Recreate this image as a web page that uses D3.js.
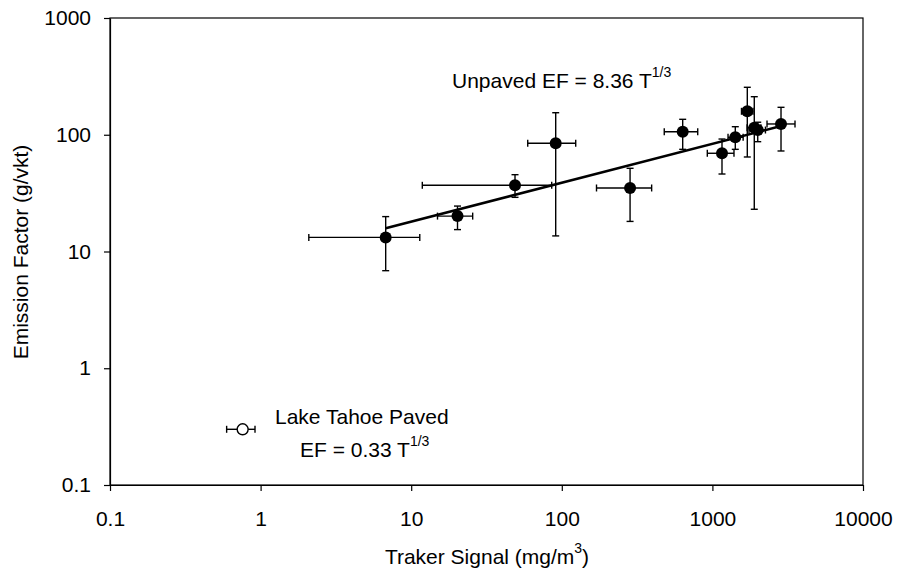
<!DOCTYPE html>
<html>
<head>
<meta charset="utf-8">
<script src="https://cdn.jsdelivr.net/npm/d3@7"></script>
<style>
  body { margin: 0; background: #fff; }
  svg text { font-family: "Liberation Sans", Arial, sans-serif; fill: #000; }
</style>
</head>
<body>
<svg id="chart" width="897" height="573"></svg>
<script>
// unpaved road measurements (Traker signal vs emission factor)
const trakerT  = [6.77, 20.3, 48.9, 91.1, 284, 635, 1158, 1419, 1705, 1897, 2000, 2855];
const trakerLo = [2.09, 14.95, 11.85, 59.4, 170, 479, 925, 1270, 1560, 1700, 1750, 2305];
const trakerHi = [11.4, 25.6, 85.7, 123.7, 395, 799, 1391, 1600, 1860, 2100, 2250, 3536];
const ef   = [13.2, 20.1, 36.9, 84.5, 35.0, 106.2, 69.4, 95.1, 158.8, 115, 109.8, 123.7];
const efLo = [6.85, 15.4, 29.1, 13.6, 18.1, 75, 46.1, 75, 64.5, 23.0, 87.2, 72.6];
const efHi = [19.9, 24.5, 45.5, 154.4, 51.6, 135.6, 91.9, 117.2, 255, 211.8, 128, 171.8];

// Lake Tahoe paved point
const pavedT = [0.76], pavedLo = [0.595], pavedHi = [0.918], pavedEF = [0.30];

// fitted line ends (EF = 8.36 T^1/3)
const fitT = [6.77, 2855];
const fitEF = [15.8, 118.6];

const xTicks = [0.1, 1, 10, 100, 1000, 10000];
const yTicks = [0.1, 1, 10, 100, 1000];

const svg = d3.select("#chart");
const mL = 110, mR = 863, mT = 18, mB = 485;

const gx = d3.scaleLog().domain([0.1, 10000]).range([mL, mR]);
const gy = d3.scaleLog().domain([0.1, 1000]).range([mB, mT]);
const fmt = d => d < 1 ? String(d) : d3.format("d")(d);

// frame
svg.append("rect")
    .attr("x", mL).attr("y", mT)
    .attr("width", mR - mL).attr("height", mB - mT)
    .attr("fill", "none").attr("stroke", "#000").attr("stroke-width", 1.2);

const xAxis = svg.append("g")
    .attr("transform", "translate(0," + mB + ")")
    .call(d3.axisBottom(gx).tickValues(xTicks).tickFormat(fmt)
        .tickSizeInner(6).tickSizeOuter(0).tickPadding(20));
const yAxis = svg.append("g")
    .attr("transform", "translate(" + mL + ",0)")
    .call(d3.axisLeft(gy).tickValues(yTicks).tickFormat(fmt)
        .tickSizeInner(6).tickSizeOuter(0).tickPadding(13));

[xAxis, yAxis].forEach(function(a) {
    a.select(".domain").attr("stroke", "#000").attr("stroke-width", 1.2);
    a.selectAll(".tick line").attr("stroke", "#000").attr("stroke-width", 1.2);
    a.selectAll(".tick text").attr("font-size", 21).attr("font-family", null);
});

// fit line
svg.append("path")
    .datum(d3.zip(fitT, fitEF))
    .attr("d", d3.line().x(d => gx(d[0])).y(d => gy(d[1])))
    .attr("fill", "none").attr("stroke", "#000").attr("stroke-width", 2.6);

function errorBars(xs, xlo, xhi, ys, ylo, yhi) {
    const g = svg.append("g").attr("stroke", "#000").attr("stroke-width", 1.4);
    const cap = 3.5;
    xs.forEach(function(x, i) {
        const px = gx(x), py = gy(ys[i]);
        // horizontal
        g.append("line").attr("x1", gx(xlo[i])).attr("x2", gx(xhi[i])).attr("y1", py).attr("y2", py);
        g.append("line").attr("x1", gx(xlo[i])).attr("x2", gx(xlo[i])).attr("y1", py - cap).attr("y2", py + cap);
        g.append("line").attr("x1", gx(xhi[i])).attr("x2", gx(xhi[i])).attr("y1", py - cap).attr("y2", py + cap);
        if (ylo) {
            g.append("line").attr("x1", px).attr("x2", px).attr("y1", gy(ylo[i])).attr("y2", gy(yhi[i]));
            g.append("line").attr("x1", px - cap).attr("x2", px + cap).attr("y1", gy(ylo[i])).attr("y2", gy(ylo[i]));
            g.append("line").attr("x1", px - cap).attr("x2", px + cap).attr("y1", gy(yhi[i])).attr("y2", gy(yhi[i]));
        }
    });
}

errorBars(trakerT, trakerLo, trakerHi, ef, efLo, efHi);
errorBars(pavedT, pavedLo, pavedHi, pavedEF, null, null);

svg.append("g").selectAll("circle")
    .data(d3.zip(trakerT, ef))
    .enter()
    .append("circle")
    .attr("cx", d => gx(d[0])).attr("cy", d => gy(d[1]))
    .attr("r", 6).attr("fill", "#000");

svg.append("g").selectAll("circle")
    .data(d3.zip(pavedT, pavedEF))
    .enter()
    .append("circle")
    .attr("cx", d => gx(d[0])).attr("cy", d => gy(d[1]))
    .attr("r", 5.5).attr("fill", "#fff").attr("stroke", "#000").attr("stroke-width", 1.4);

// labels
function supText(x, y, main, sup, tail) {
    const t = svg.append("text").attr("x", x).attr("y", y).attr("font-size", 21);
    t.append("tspan").text(main);
    t.append("tspan").attr("font-size", 14).attr("dy", -11).text(sup);
    if (tail) t.append("tspan").attr("dy", 11).text(tail);
    return t;
}

supText(452, 88, "Unpaved EF = 8.36 T", "1/3");
svg.append("text").attr("x", 275).attr("y", 424).attr("font-size", 21).text("Lake Tahoe Paved");
supText(300, 457, "EF = 0.33 T", "1/3");

supText(487, 564, "Traker Signal (mg/m", "3", ")").attr("text-anchor", "middle");

svg.append("text")
    .attr("transform", "translate(28,252) rotate(-90)")
    .attr("text-anchor", "middle")
    .attr("font-size", 21)
    .text("Emission Factor (g/vkt)");
</script>
</body>
</html>
